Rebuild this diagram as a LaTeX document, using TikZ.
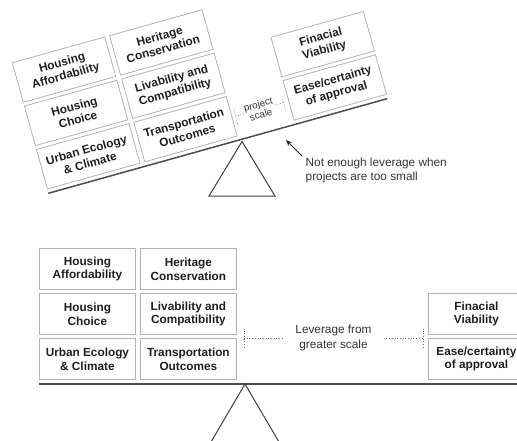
\documentclass[tikz,border=0pt]{standalone}
\usepackage{fontspec}
\setmainfont{Liberation Sans}
\usetikzlibrary{arrows.meta}
\begin{document}
\begin{tikzpicture}[x=1pt,y=-1pt,
    goal/.style={draw=gray!60, line width=0.8pt, minimum width=96pt, minimum height=41pt,
      inner sep=0pt, align=center, anchor=south west, text=black!88,
      font=\bfseries\fontsize{11.8}{13.6}\selectfont},
    beam/.style={draw=black!70, line width=1.5pt},
    fulcrum/.style={draw=black!75, line width=1pt, line join=miter},
    scalebar/.style={draw=black!55, dotted, line width=0.7pt},
    label/.style={align=center, text=black!80, inner sep=1pt}]
    \clip (0,0) rectangle (517,440);

    % tilted lever: projects too small
    \begin{scope}[shift={(48.3,193.3)}, rotate=15.6, transform shape]
        \coordinate (tBeamL) at (0,0);
        \coordinate (tBeamR) at (352,0);
        \draw[beam] (tBeamL) -- (tBeamR);

        \node[goal] (tUrban) at (0,-4) {Urban Ecology\\\& Climate};
        \node[goal] (tChoice) at (0,-49) {Housing\\Choice};
        \node[goal] (tAfford) at (0,-94) {Housing\\Affordability};
        \node[goal] (tTransport) at (101,-4) {Transportation\\Outcomes};
        \node[goal] (tLivable) at (101,-49) {Livability and\\Compatibility};
        \node[goal] (tHeritage) at (101,-94) {Heritage\\Conservation};
        \node[goal] (tEase) at (256,-4) {Ease/certainty\\of approval};
        \node[goal] (tFinance) at (256,-49) {Finacial\\Viability};

        \node[label, font=\fontsize{9.8}{10.8}\selectfont] (tScale) at (226,-24) {project\\scale};
        \coordinate (tTickL) at (201,-24);
        \coordinate (tTickR) at (251,-24);
        \draw[scalebar] ([yshift=-8pt]tTickL) -- ([yshift=8pt]tTickL);
        \draw[scalebar] ([yshift=-8pt]tTickR) -- ([yshift=8pt]tTickR);
        \draw[scalebar] (tTickL) -- (tScale);
        \draw[scalebar] (tScale) -- (tTickR);
    \end{scope}

    \coordinate (tApex) at (242,141.5);
    \coordinate (tBaseL) at (209,196);
    \coordinate (tBaseR) at (275,196);
    \draw[fulcrum] (tApex) -- (tBaseL) -- (tBaseR) -- cycle;

    \node[align=left, anchor=west, inner sep=0pt, text=black!80,
      font=\fontsize{11.8}{14}\selectfont] (note) at (305.5,170)
      {Not enough leverage when\\projects are too small};
    \coordinate (arrTail) at (302,156);
    \coordinate (arrTip) at (286,140);
    \draw[black!85, line width=1pt, -{Stealth[length=6pt,width=5pt]}] (arrTail) -- (arrTip);

    % level lever: leverage from greater scale
    \begin{scope}[shift={(39,384)}]
        \coordinate (bBeamL) at (0,0);
        \coordinate (bBeamR) at (480,0);
        \draw[beam] (bBeamL) -- (bBeamR);

        \node[goal] (bUrban) at (0,-4) {Urban Ecology\\\& Climate};
        \node[goal] (bChoice) at (0,-49) {Housing\\Choice};
        \node[goal] (bAfford) at (0,-94) {Housing\\Affordability};
        \node[goal] (bTransport) at (101,-4) {Transportation\\Outcomes};
        \node[goal] (bLivable) at (101,-49) {Livability and\\Compatibility};
        \node[goal] (bHeritage) at (101,-94) {Heritage\\Conservation};
        \node[goal] (bEase) at (389,-4) {Ease/certainty\\of approval};
        \node[goal] (bFinance) at (389,-49) {Finacial\\Viability};

        \node[label, inner xsep=12pt, font=\fontsize{11.8}{14.5}\selectfont] (bScale) at (294.5,-46)
          {Leverage from\\greater scale};
        \coordinate (bTickL) at (205,-46);
        \coordinate (bTickR) at (384,-46);
        \draw[scalebar] ([yshift=-9.5pt]bTickL) -- ([yshift=9.5pt]bTickL);
        \draw[scalebar] ([yshift=-9.5pt]bTickR) -- ([yshift=9.5pt]bTickR);
        \draw[scalebar] (bTickL) -- (bScale);
        \draw[scalebar] (bScale) -- (bTickR);

        \coordinate (bApex) at (206,0);
        \coordinate (bBaseL) at (172,58);
        \coordinate (bBaseR) at (240,58);
        \draw[fulcrum] (bApex) -- (bBaseL) -- (bBaseR) -- cycle;
    \end{scope}
\end{tikzpicture}
\end{document}
